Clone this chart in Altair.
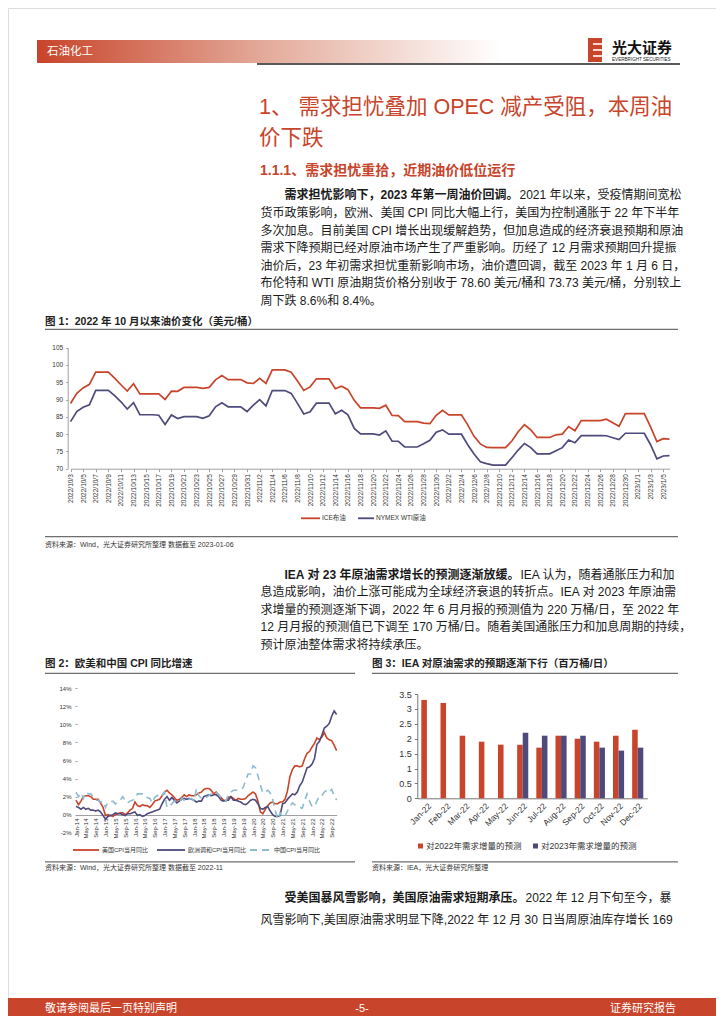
import altair as alt
import pandas as pd

FONT = "Liberation Sans, Noto Sans CJK SC"
RED = "#C8442A"
PURPLE = "#4E4A7C"
LBLUE = "#8EBBD1"
INK = "#1A1A1A"
W, H = 708, 1008


def X(v):
    return v - 8


def Y(v):
    return v - 8


def em(s):
    w = 0.0
    for ch in s:
        if ord(ch) > 0x2E80:
            w += 1.0
        elif ch.isdigit():
            w += 0.556
        elif ch in " /.I":
            w += 0.278
        elif ch == "%":
            w += 0.889
        elif ch.isupper():
            w += 0.68
        else:
            w += 0.5
    return w


# ---------------- data ----------------
oil_dates = [d.strftime("%Y/%-m/%-d") for d in pd.date_range("2022-10-03", "2023-01-06")]
brent = [88.86, 91.80, 93.37, 94.42, 97.92, 97.92, 97.92,
         96.19, 94.29, 92.45, 94.57, 91.63, 91.63, 91.63,
         91.62, 90.03, 92.41, 92.38, 93.50, 93.50, 93.50,
         93.26, 93.52, 95.69, 96.96, 95.77, 95.77, 95.77,
         94.83, 94.65, 96.16, 94.67, 98.57, 98.57, 98.57,
         97.92, 95.36, 92.65, 93.67, 95.99, 95.99, 95.99,
         93.14, 93.86, 92.86, 89.78, 87.62, 87.62, 87.62,
         87.45, 88.36, 85.41, 85.34, 83.63, 83.63, 83.63,
         83.19, 83.03, 85.43, 86.88, 85.57, 85.57, 85.57,
         82.68, 79.35, 77.17, 76.15, 76.10, 76.10, 76.10,
         77.99, 80.68, 82.70, 81.21, 79.04, 79.04, 79.04,
         79.80, 79.99, 82.20, 80.98, 83.92, 83.92, 83.92,
         83.92, 84.33, 83.26, 82.26, 85.91, 85.91, 85.91,
         85.91, 82.10, 77.84, 78.69, 78.57]
wti = [83.63, 86.52, 87.76, 88.45, 92.64, 92.64, 92.64,
       91.13, 89.35, 87.27, 89.11, 85.61, 85.61, 85.61,
       85.46, 82.82, 85.55, 84.51, 85.05, 85.05, 85.05,
       84.58, 85.32, 87.91, 89.08, 87.90, 87.90, 87.90,
       86.53, 88.37, 90.00, 88.17, 92.61, 92.61, 92.61,
       91.79, 88.91, 85.83, 86.47, 88.96, 88.96, 88.96,
       85.87, 86.92, 85.59, 81.64, 80.08, 80.08, 80.08,
       79.73, 80.95, 77.94, 77.94, 76.28, 76.28, 76.28,
       77.24, 78.20, 80.55, 81.22, 79.98, 79.98, 79.98,
       76.93, 74.25, 72.01, 71.46, 71.02, 71.02, 71.02,
       73.17, 75.39, 77.28, 76.11, 74.29, 74.29, 74.29,
       75.19, 76.09, 78.29, 77.49, 79.56, 79.56, 79.56,
       79.56, 79.53, 78.96, 78.40, 80.26, 80.26, 80.26,
       80.26, 76.93, 72.84, 73.67, 73.77]
oil_series = ["ICE布油", "NYMEX WTI原油"]
oil_ticks = [70, 75, 80, 85, 90, 95, 100, 105]

cpi_months = [d.strftime("%b-%y") for d in pd.date_range("2014-01-01", "2022-11-01", freq="MS")]
cpi_us = [1.6, 1.1, 1.5, 2.0, 2.1, 2.1, 2.0, 1.7, 1.7, 1.7, 1.3, 0.8,
          -0.1, 0.0, -0.1, -0.2, 0.0, 0.1, 0.2, 0.2, 0.0, 0.2, 0.5, 0.7,
          1.4, 1.0, 0.9, 1.1, 1.0, 1.0, 0.8, 1.1, 1.5, 1.6, 1.7, 2.1,
          2.5, 2.7, 2.4, 2.2, 1.9, 1.6, 1.7, 1.9, 2.2, 2.0, 2.2, 2.1,
          2.1, 2.2, 2.4, 2.5, 2.8, 2.9, 2.9, 2.7, 2.3, 2.5, 2.2, 1.9,
          1.6, 1.5, 1.9, 2.0, 1.8, 1.6, 1.8, 1.7, 1.7, 1.8, 2.1, 2.3,
          2.5, 2.3, 1.5, 0.3, 0.1, 0.6, 1.0, 1.3, 1.4, 1.2, 1.2, 1.4,
          1.4, 1.7, 2.6, 4.2, 5.0, 5.4, 5.4, 5.3, 5.4, 6.2, 6.8, 7.0,
          7.5, 7.9, 8.5, 8.3, 8.6, 9.1, 8.5, 8.3, 8.2, 7.7, 7.1]
cpi_eu = [0.9, 0.8, 0.6, 0.8, 0.6, 0.7, 0.5, 0.5, 0.4, 0.5, 0.3, -0.1,
          -0.5, -0.2, -0.1, 0.0, 0.2, 0.1, 0.1, 0.0, -0.1, 0.1, 0.1, 0.2,
          0.3, -0.1, 0.0, -0.2, -0.1, 0.1, 0.2, 0.3, 0.4, 0.5, 0.6, 1.2,
          1.7, 2.0, 1.6, 1.9, 1.6, 1.3, 1.5, 1.7, 1.8, 1.7, 1.8, 1.7,
          1.6, 1.4, 1.5, 1.5, 2.0, 2.1, 2.2, 2.1, 2.2, 2.2, 2.0, 1.6,
          1.5, 1.6, 1.6, 2.0, 1.6, 1.6, 1.5, 1.4, 1.2, 1.1, 1.3, 1.6,
          1.7, 1.6, 1.2, 0.7, 0.6, 0.8, 0.9, 0.4, 0.0, -0.2, -0.2, -0.1,
          1.2, 1.3, 1.7, 2.0, 2.3, 2.2, 2.5, 3.2, 3.6, 4.4, 5.2, 5.3,
          5.6, 6.2, 7.8, 8.1, 8.8, 9.6, 9.8, 10.1, 10.9, 11.5, 11.1]
cpi_cn = [2.5, 2.0, 2.4, 1.8, 2.5, 2.3, 2.3, 2.0, 1.6, 1.6, 1.4, 1.5,
          0.8, 1.4, 1.4, 1.5, 1.2, 1.4, 1.6, 2.0, 1.6, 1.3, 1.5, 1.6,
          1.8, 2.3, 2.3, 2.3, 2.0, 1.9, 1.8, 1.3, 1.9, 2.1, 2.3, 2.1,
          2.5, 0.8, 0.9, 1.2, 1.5, 1.5, 1.4, 1.8, 1.6, 1.9, 1.7, 1.8,
          1.5, 2.9, 2.1, 1.8, 1.8, 1.9, 2.1, 2.3, 2.5, 2.5, 2.2, 1.9,
          1.7, 1.5, 2.3, 2.5, 2.7, 2.7, 2.8, 2.8, 3.0, 3.8, 4.5, 4.5,
          5.4, 5.2, 4.3, 3.3, 2.4, 2.5, 2.7, 2.4, 1.7, 0.5, -0.5, 0.2,
          -0.3, -0.2, 0.4, 0.9, 1.3, 1.1, 1.0, 0.8, 0.7, 1.5, 2.3, 1.5,
          0.9, 0.9, 1.5, 2.1, 2.1, 2.5, 2.7, 2.5, 2.8, 2.1, 1.6]
cpi_series = ["美国CPI当月同比", "欧洲调和CPI当月同比", "中国CPI当月同比"]
cpi_ticks = [-2, 0, 2, 4, 6, 8, 10, 12, 14]

iea_months = ["Jan-22", "Feb-22", "Mar-22", "Apr-22", "May-22", "Jun-22",
              "Jul-22", "Aug-22", "Sep-22", "Oct-22", "Nov-22", "Dec-22"]
iea_2022 = [3.3, 3.2, 2.1, 1.9, 1.8, 1.8, 1.7, 2.1, 2.0, 1.9, 2.1, 2.3]
iea_2023 = [None, None, None, None, None, 2.2, 2.1, 2.1, 2.1, 1.7, 1.6, 1.7]
iea_series = ["对2022年需求增量的预测", "对2023年需求增量的预测"]
iea_ticks = [0, 0.5, 1, 1.5, 2, 2.5, 3, 3.5]

# ---------------- helpers ----------------
def texts(rows, size, color=INK, weight="normal", align="left"):
    df = pd.DataFrame(rows, columns=["x", "y", "t"])
    df["x"] = df["x"] - 8
    df["y"] = df["y"] - 8
    return alt.Chart(df).mark_text(
        align=align, baseline="middle", fontSize=size, color=color,
        fontWeight=weight, font=FONT
    ).encode(
        x=alt.X("x:Q", scale=None, axis=None),
        y=alt.Y("y:Q", scale=None, axis=None),
        text="t:N",
    )


def rules(rows, color, width=1.0, dash=None):
    df = pd.DataFrame(rows, columns=["x", "x2", "y", "y2"]) - 8
    mk = dict(color=color, strokeWidth=width)
    if dash:
        mk["strokeDash"] = dash
    return alt.Chart(df).mark_rule(**mk).encode(
        x=alt.X("x:Q", scale=None, axis=None), x2="x2:Q",
        y=alt.Y("y:Q", scale=None, axis=None), y2="y2:Q",
    )


def rects(rows, fill):
    df = pd.DataFrame(rows, columns=["x", "x2", "y", "y2"]) - 8
    return alt.Chart(df).mark_rect(fill=fill, strokeWidth=0).encode(
        x=alt.X("x:Q", scale=None, axis=None), x2="x2:Q",
        y=alt.Y("y:Q", scale=None, axis=None), y2="y2:Q",
    )


ax = dict(labelFont=FONT, labelColor="#333333", domainColor="#A0A0A0",
          tickColor="#A0A0A0", grid=False, title=None, labelOverlap=False,
          labelFlush=False)

layers = []

# ---------------- header ----------------
band = alt.LinearGradient(
    gradient="linear", x1=0, x2=1, y1=0, y2=0,
    stops=[alt.GradientStop(color="#C8442A", offset=0),
           alt.GradientStop(color="#E4AC9C", offset=0.5),
           alt.GradientStop(color="#FFFFFF", offset=1)])
layers.append(rects([[37, 500, 40, 63]], band))
layers.append(rects([[588, 602, 38, 62]], RED))
layers.append(rules([[593, 602, 44, 44], [593, 602, 50, 50], [593, 602, 56, 56]], "white", 1.6))
layers.append(rules([[257, 680, 64, 64]], "#222222", 1.5))
layers.append(texts([[47, 52, "石油化工"]], 11.5, "white"))
layers.append(texts([[612, 48, "光大证券"]], 15, "#111111", "bold"))
layers.append(texts([[612, 59.5, "EVERBRIGHT SECURITIES"]], 4.6, "#222222"))

# ---------------- titles ----------------
layers.append(texts([[259, 107.5, "1、 需求担忧叠加 OPEC 减产受阻，本周油"],
                     [259, 138.5, "价下跌"]], 21.5, RED))
layers.append(texts([[260, 171, "1.1.1、需求担忧重拾，近期油价低位运行"]], 14, RED, "bold"))

FS = 12
# paragraph 1
p1_bold = "需求担忧影响下，2023 年第一周油价回调。"
p1_first = "2021 年以来，受疫情期间宽松"
p1_lines = [
    "货币政策影响，欧洲、美国 CPI 同比大幅上行，美国为控制通胀于 22 年下半年",
    "多次加息。目前美国 CPI 增长出现缓解趋势，但加息造成的经济衰退预期和原油",
    "需求下降预期已经对原油市场产生了严重影响。历经了 12 月需求预期回升提振",
    "油价后，23 年初需求担忧重新影响市场，油价遭回调，截至 2023 年 1 月 6 日，",
    "布伦特和 WTI 原油期货价格分别收于 78.60 美元/桶和 73.73 美元/桶，分别较上",
    "周下跌 8.6%和 8.4%。",
]
# paragraph 2
p2_bold = "IEA 对 23 年原油需求增长的预测逐渐放缓。"
p2_first = "IEA 认为，随着通胀压力和加"
p2_lines = [
    "息造成影响，油价上涨可能成为全球经济衰退的转折点。IEA 对 2023 年原油需",
    "求增量的预测逐渐下调，2022 年 6 月月报的预测值为 220 万桶/日，至 2022 年",
    "12 月月报的预测值已下调至 170 万桶/日。随着美国通胀压力和加息周期的持续，",
    "预计原油整体需求将持续承压。",
]
# paragraph 3
p3_bold = "受美国暴风雪影响，美国原油需求短期承压。"
p3_first = "2022 年 12 月下旬至今，暴"
p3_lines = ["风雪影响下,美国原油需求明显下降,2022 年 12 月 30 日当周原油库存增长 169"]

body_rows, bold_rows = [], []
for (y0, lh, b, f, rest) in [(195.3, 17.6, p1_bold, p1_first, p1_lines),
                             (574.5, 17.6, p2_bold, p2_first, p2_lines),
                             (897.5, 22.0, p3_bold, p3_first, p3_lines)]:
    x_in = 260.5 + 2 * FS
    bold_rows.append([x_in, y0, b])
    body_rows.append([x_in + em(b) * FS + 1, y0, f])
    for i, line in enumerate(rest):
        body_rows.append([260.5, y0 + (i + 1) * lh, line])
layers.append(texts(bold_rows, FS, INK, "bold"))
layers.append(texts(body_rows, FS, INK))

# ---------------- figure 1 ----------------
layers.append(texts([[45, 322, "图 1：2022 年 10 月以来油价变化（美元/桶）"]], 10.5, "#222222", "bold"))
layers.append(rules([[45, 678, 329.3, 329.3], [45, 678, 536.7, 536.7]], "#6E6E6E", 1.2))
layers.append(texts([[45, 545, "资料来源：Wind，光大证券研究所整理 数据截至 2023-01-06"]], 7, "#333333"))

oil_df = pd.DataFrame({
    "d": oil_dates * 2,
    "v": brent + wti,
    "s": [oil_series[0]] * len(brent) + [oil_series[1]] * len(wti),
})
layers.append(
    alt.Chart(oil_df).mark_line(strokeWidth=1.7).encode(
        x=alt.X("d:N", sort=None,
                scale=alt.Scale(type="point", range=[X(70.5), X(669.5)], padding=0),
                axis=alt.Axis(orient="bottom", offset=Y(468.7) - H, values=oil_dates[::2],
                              labelAngle=-90, labelFontSize=6.5, tickSize=3, labelPadding=2, **ax)),
        y=alt.Y("v:Q",
                scale=alt.Scale(domain=[70, 105], range=[Y(468.7), Y(347.7)], nice=False, zero=False),
                axis=alt.Axis(orient="left", offset=-X(67.7), values=oil_ticks,
                              labelFontSize=6.5, tickSize=2, labelPadding=3, **ax)),
        color=alt.Color("s:N", scale=alt.Scale(domain=oil_series, range=[RED, PURPLE]), legend=None),
        detail="s:N",
    )
)
layers.append(rules([[301, 320, 518.3, 518.3]], RED, 1.8))
layers.append(rules([[358, 374, 518.3, 518.3]], PURPLE, 1.8))
layers.append(texts([[322, 518.3, oil_series[0]], [376, 518.3, oil_series[1]]], 6.5, "#333333"))

# ---------------- figure 2 ----------------
layers.append(texts([[45, 664.3, "图 2：欧美和中国 CPI 同比增速"]], 10.5, "#222222", "bold"))
layers.append(rules([[45, 355, 673.3, 673.3], [45, 355, 861.8, 861.8]], "#6E6E6E", 1.2))
layers.append(texts([[45, 867.5, "资料来源：Wind，光大证券研究所整理 数据截至 2022-11"]], 7, "#333333"))

n = len(cpi_months)
cpi_df = pd.DataFrame({
    "m": cpi_months * 3,
    "v": cpi_us + cpi_eu + cpi_cn,
    "s": [cpi_series[0]] * n + [cpi_series[1]] * n + [cpi_series[2]] * n,
})
layers.append(
    alt.Chart(cpi_df).mark_line(strokeWidth=1.6).encode(
        x=alt.X("m:N", sort=None,
                scale=alt.Scale(type="point", range=[X(76), X(336.6)], padding=0),
                axis=alt.Axis(orient="bottom", offset=Y(815) - H, values=cpi_months[::4],
                              labelAngle=-90, labelFontSize=6, tickSize=0, labelPadding=3, **ax)),
        y=alt.Y("v:Q",
                scale=alt.Scale(domain=[-2, 14], range=[Y(832.7), Y(688.3)], nice=False, zero=False),
                axis=alt.Axis(orient="left", offset=-X(77), values=cpi_ticks, domain=False,
                              labelExpr="datum.value + '%'", labelFontSize=6, tickSize=2,
                              labelPadding=4, **ax)),
        color=alt.Color("s:N", scale=alt.Scale(domain=cpi_series, range=[RED, PURPLE, LBLUE]), legend=None),
        strokeDash=alt.StrokeDash("s:N", scale=alt.Scale(domain=cpi_series, range=[[1, 0], [1, 0], [7, 5]]), legend=None),
        detail="s:N",
    )
)
layers.append(rules([[73, 99, 850, 850]], RED, 1.8))
layers.append(rules([[157, 185, 850, 850]], PURPLE, 1.8))
layers.append(rules([[250, 271, 850, 850]], LBLUE, 1.8, dash=[7, 5]))
layers.append(texts([[102, 850, cpi_series[0]], [188, 850, cpi_series[1]],
                     [274, 850, cpi_series[2]]], 6, "#333333"))

# ---------------- figure 3 ----------------
layers.append(texts([[372, 664.3, "图 3：IEA 对原油需求的预期逐渐下行（百万桶/日）"]], 10.5, "#222222", "bold"))
layers.append(rules([[372, 678, 673.3, 673.3], [372, 678, 861.8, 861.8]], "#6E6E6E", 1.2))
layers.append(texts([[372, 867.5, "资料来源：IEA，光大证券研究所整理"]], 7, "#333333"))

iea_rows = []
for m, a, b in zip(iea_months, iea_2022, iea_2023):
    iea_rows.append([m, iea_series[0], a])
    if b is not None:
        iea_rows.append([m, iea_series[1], b])
iea_df = pd.DataFrame(iea_rows, columns=["m", "k", "v"])
layers.append(
    alt.Chart(iea_df).mark_bar().encode(
        x=alt.X("m:N", sort=iea_months,
                scale=alt.Scale(range=[X(417.3), X(647.3)], paddingInner=0.42, paddingOuter=0.21),
                axis=alt.Axis(orient="bottom", offset=Y(798.3) - H, labelAngle=-45,
                              labelFontSize=8.5, tickSize=0, labelPadding=3,
                              **{**ax, "domainColor": "#777777"})),
        xOffset=alt.XOffset("k:N", sort=iea_series,
                            scale=alt.Scale(domain=iea_series, paddingInner=0, paddingOuter=0)),
        y=alt.Y("v:Q",
                scale=alt.Scale(domain=[0, 3.5], range=[Y(798.3), Y(694)], nice=False),
                axis=alt.Axis(orient="left", offset=-X(417.3), values=iea_ticks, format="~g",
                              labelFontSize=9, tickSize=3, labelPadding=3,
                              **{**ax, "domainColor": "#777777", "tickColor": "#777777"})),
        color=alt.Color("k:N", scale=alt.Scale(domain=iea_series, range=[RED, PURPLE]), legend=None),
    )
)
layers.append(rects([[418, 423, 843.5, 848.5]], RED))
layers.append(rects([[533, 538, 843.5, 848.5]], PURPLE))
layers.append(texts([[426, 846, iea_series[0]], [541, 846, iea_series[1]]], 8.5, "#333333"))

# ---------------- footer ----------------
layers.append(rects([[8, 716, 998, 1016]], RED))
layers.append(texts([[45, 1008.5, "敬请参阅最后一页特别声明"]], 11, "white"))
layers.append(texts([[362, 1008.5, "-5-"]], 11, "white", align="center"))
layers.append(texts([[676, 1008.5, "证券研究报告"]], 11, "white", align="right"))

chart = (
    alt.layer(*layers)
    .resolve_scale(x="independent", y="independent", color="independent",
                   strokeDash="independent")
    .properties(width=W, height=H, padding=0, background="white",
                autosize=alt.AutoSizeParams(type="none"))
    .configure_view(stroke=None)
    .configure(font=FONT)
)

chart.save("out.html", embed_options={"renderer": "svg", "actions": False})
